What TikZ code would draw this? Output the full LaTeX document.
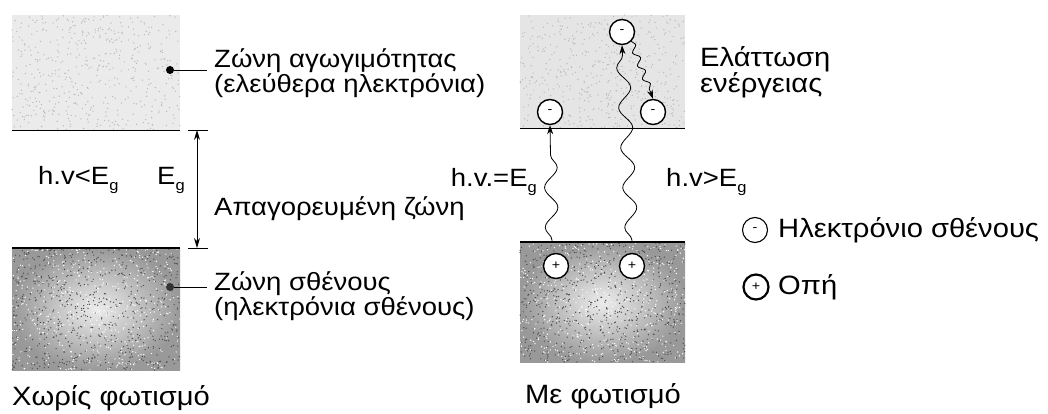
\documentclass[tikz,border=0pt]{standalone}
\usepackage{fontspec}
\setmainfont{Liberation Sans}[FakeStretch=1.1]
\usetikzlibrary{decorations.pathmorphing,arrows.meta}
\newcommand\Eg{E\raisebox{-6pt}{\fontsize{15}{15}\selectfont g}}
\begin{document}
\begin{tikzpicture}[x=1pt,y=-1pt,
 lbl/.style={font=\fontsize{25}{23}\selectfont, inner sep=0pt, align=left},
 biglbl/.style={font=\fontsize{26.5}{23}\selectfont, inner sep=0pt, align=left},
 band/.style={rectangle, inner sep=0pt, anchor=north west},
 particle/.style={circle, draw, line width=1.4pt, fill=white, minimum size=25pt, inner sep=0pt, font=\fontsize{13}{13}\selectfont},
 wave/.style={decorate, decoration={snake, amplitude=6.5pt, segment length=40pt, pre length=2pt, post length=10pt}},
 tip/.style={-{Stealth[length=9pt,width=6pt]}},
 dot/.style={circle, fill, inner sep=0pt, minimum size=8pt}
]
\useasboundingbox (0,0) rectangle (1048,414);
\pgfmathsetseed{7}
% ---- bands, left
\node[band, fill=gray!16, minimum width=168pt, minimum height=115pt] (cb1) at (12,15) {};
\node[band, shade, inner color=gray!15, outer color=gray!80, minimum width=168pt, minimum height=122pt] (vb1) at (12,248) {};
% ---- bands, right
\node[band, fill=gray!20, minimum width=165pt, minimum height=113pt] (cb2) at (520,15) {};
\node[band, shade, inner color=gray!15, outer color=gray!80, minimum width=165pt, minimum height=120pt] (vb2) at (520,242) {};
% speckles
\foreach \ox/\oy/\w/\h in {12/15/168/115, 520/15/165/113}{
  \foreach \i in {1,...,500}{
    \pgfmathsetmacro\xx{\ox+\w*rnd}\pgfmathsetmacro\yy{\oy+\h*rnd}
    \fill[gray!55] (\xx,\yy) circle (0.7pt);}}
\foreach \ox/\oy/\w/\h in {12/248/168/122, 520/242/165/120}{
  \foreach \i in {1,...,700}{
    \pgfmathsetmacro\xx{\ox+\w*rnd}\pgfmathsetmacro\yy{\oy+\h*rnd}
    \fill[black!70] (\xx,\yy) circle (0.7pt);}
  \foreach \i in {1,...,500}{
    \pgfmathsetmacro\xx{\ox+\w*rnd}\pgfmathsetmacro\yy{\oy+\h*rnd}
    \fill[white] (\xx,\yy) circle (0.7pt);}}
% band edge lines
\draw[line width=1.5pt] (cb1.south west) -- (cb1.south east);
\draw[line width=2pt] (vb1.north west) -- (vb1.north east);
\draw[line width=1.5pt] (cb2.south west) -- (cb2.south east);
\draw[line width=2pt] (vb2.north west) -- (vb2.north east);
% gap arrow
\coordinate (t1a) at (188,130); \coordinate (t1b) at (208,130);
\coordinate (t2a) at (188,248); \coordinate (t2b) at (208,248);
\coordinate (g1) at (197,130); \coordinate (g2) at (197,248);
\draw[line width=0.8pt] (t1a) -- (t1b);
\draw[line width=0.8pt] (t2a) -- (t2b);
\draw[line width=0.8pt, {Stealth[length=10pt,width=6pt]}-{Stealth[length=10pt,width=6pt]}] (g1) -- (g2);
% leaders
\node[dot] (d1) at (170,70) {}; \coordinate (l1) at (207,70);
\draw[line width=0.8pt] (d1) -- (l1);
\node[dot, fill=black!80] (d2) at (170,287) {}; \coordinate (l2) at (207,287);
\draw[line width=0.8pt] (d2) -- (l2);
% particles
\node[particle] (e1) at (550,112) {-};
\node[particle] (e2) at (622,32) {-};
\node[particle] (e3) at (653,112) {-};
\node[particle] (h1) at (556,266) {+};
\node[particle] (h2) at (632,266) {+};
\coordinate (p1) at (552,242); \coordinate (p2) at (632,242);
\draw[wave, tip, line width=0.8pt] (p1) -- (e1.south);
\draw[wave, tip, line width=0.8pt] (p2) -- (e2.south);
\draw[decorate, decoration={snake, amplitude=3pt, segment length=14pt, post length=8pt}, tip, line width=0.8pt] (e2.south east) -- (e3.north);
% labels
\node[lbl, anchor=west] (cbl) at (214,73) {Ζώνη αγωγιμότητας\\(ελεύθερα ηλεκτρόνια)};
\node[lbl, anchor=west] (gapl) at (214,209) {Απαγορευμένη ζώνη};
\node[lbl, anchor=west] (vbl) at (214,296) {Ζώνη σθένους\\(ηλεκτρόνια σθένους)};
\node[lbl, anchor=west] (hvl) at (38,180) {h.v<\Eg};
\node[lbl, anchor=west] (egl) at (157,180) {\Eg};
\node[biglbl, anchor=west] (nol) at (12,398) {Χωρίς φωτισμό};
\node[lbl, anchor=east] (hv1) at (537,182) {h.v.=\Eg};
\node[lbl, anchor=west] (hv2) at (666,182) {h.v>\Eg};
\node[biglbl, anchor=west] (redl) at (700,72) {Ελάττωση\\ενέργειας};
\node[particle, line width=1.1pt] (le) at (755,230) {-};
\node[biglbl, anchor=west] (lel) at (778,230) {Ηλεκτρόνιο σθένους};
\node[particle, line width=2.2pt] (lh) at (756,287) {+};
\node[biglbl, anchor=west] (lhl) at (778,287) {Οπή};
\node[biglbl] (withl) at (603,396) {Με φωτισμό};
\end{tikzpicture}
\end{document}
